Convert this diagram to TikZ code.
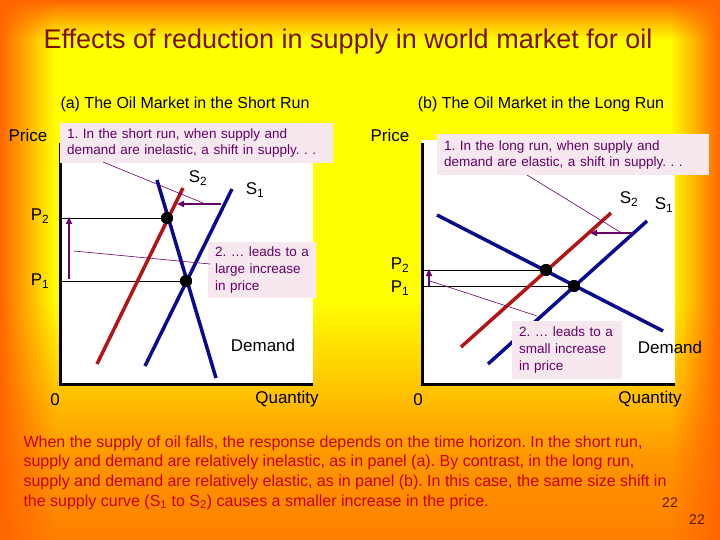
\documentclass[tikz,border=0pt]{standalone}
\usepackage{fontspec}
\setmainfont{Liberation Sans}
\usetikzlibrary{arrows.meta,fadings}
\frenchspacing

\definecolor{oilorange}{HTML}{FF6600}
\definecolor{oilyellow}{HTML}{FFFF00}
\definecolor{lowband}{HTML}{FF9500}
\definecolor{lowedge}{HTML}{FF7F00}
\definecolor{plum}{HTML}{660066}
\definecolor{boxpink}{HTML}{F6E8EE}
\definecolor{curveblue}{HTML}{0A0A90}
\definecolor{curvered}{HTML}{B41414}
\definecolor{titlered}{HTML}{7A1000}
\definecolor{textred}{HTML}{C80000}
\definecolor{pagenum}{HTML}{5A1A00}

\tikzfading[name=fadedown, top color=transparent!0, bottom color=transparent!100]
\tikzfading[name=faderight, left color=transparent!0, right color=transparent!100]
\tikzfading[name=fadeleft, left color=transparent!100, right color=transparent!0]

\begin{document}
\begin{tikzpicture}[x=1pt,y=-1pt,
	lbl/.style={font=\fontsize{17}{20}\selectfont},
	subttl/.style={font=\fontsize{16}{19}\selectfont},
	notebox/.style={fill=boxpink, text=plum, font=\fontsize{13.5}{16}\selectfont,
		align=left, inner xsep=7pt, anchor=north west},
	bluecurve/.style={line width=3.5pt, curveblue},
	redcurve/.style={line width=3.5pt, curvered},
	eqdot/.style={circle, fill=black, inner sep=0pt, minimum size=12pt},
	shiftarrow/.style={plum, line width=2pt, -{Triangle[length=7pt,width=6pt]}},
	pointer/.style={plum, line width=0.6pt},
	priceline/.style={black, line width=0.8pt},
	axisline/.style={black, line width=3pt}]
	\useasboundingbox (0,0) rectangle (720,540);
	% background
	\fill[oilyellow] (0,0) rectangle (720,540);
	\shade[top color=oilyellow, bottom color=lowband] (0,300) rectangle (720,460);
	\shade[top color=lowband, bottom color=lowedge] (0,460) rectangle (720,540);
	\fill[oilorange, path fading=fadedown] (0,0) rectangle (720,40);
	\fill[oilorange, path fading=faderight] (0,0) rectangle (55,540);
	\fill[oilorange, path fading=fadeleft] (670,0) rectangle (720,540);
	
	\node[text=titlered, font=\fontsize{27}{30}\selectfont](titl) at (348,42) {Effects of reduction in supply in world market for oil};
	\node[subttl](ttla) at (185,104) {(a) The Oil Market in the Short Run};
	\node[subttl](ttlb) at (541,104) {(b) The Oil Market in the Long Run};
	
	% panel (a): short run
	\fill[white] (60,140) rectangle (313,384);
	\coordinate(ya) at (60,143);\coordinate(oa) at (60,384);\coordinate(xa) at (313,384);
	\draw[axisline] (ya) -- (oa) -- (xa);
	\node[eqdot](eq2a) at (167,218) {};
	\node[eqdot](eq1a) at (186,281) {};
	\coordinate(p2a) at (60,218);\coordinate(p1a) at (60,281);
	\draw[priceline] (p2a) -- (eq2a.center);
	\draw[priceline] (p1a) -- (eq1a.center);
	\coordinate(da1) at (157,180);\coordinate(da2) at (216,378);
	\coordinate(s1a1) at (232,189);\coordinate(s1a2) at (145,366);
	\coordinate(s2a1) at (183,188);\coordinate(s2a2) at (97,364);
	\draw[redcurve] (s2a2) -- (s2a1);
	\draw[bluecurve] (s1a2) -- (s1a1);
	\draw[bluecurve] (da1) -- (da2);
	\node[eqdot] at (eq2a) {};\node[eqdot] at (eq1a) {};
	\node[notebox, text width=259pt, minimum height=40pt](n1a) at (60,123) {1. In the short run, when supply and\\demand are inelastic, a shift in supply. . .};
	\node[notebox, text width=94pt, minimum height=56pt, font=\fontsize{13.5}{16.7}\selectfont](n2a) at (208,242) {2. … leads to a\\large increase\\in price};
	\coordinate(fa1) at (221,204);\coordinate(fa2) at (177,204);
	\draw[shiftarrow] (fa1) -- (fa2);
	\coordinate(ra1) at (69,279);\coordinate(ra2) at (69,217);
	\draw[shiftarrow] (ra1) -- (ra2);
	\coordinate(qa1) at (103,162);\coordinate(qa2) at (203,203);
	\draw[pointer] (qa1) -- (qa2);
	\coordinate(qa3) at (74,251);\coordinate(qa4) at (210,264);
	\draw[pointer] (qa3) -- (qa4);
	\node[lbl](pra) at (28,135) {Price};
	\node[lbl](lp2a) at (40,216) {P\textsubscript{2}};
	\node[lbl](lp1a) at (40,281) {P\textsubscript{1}};
	\node[lbl](ls2a) at (198,178) {S\textsubscript{2}};
	\node[lbl](ls1a) at (255,190) {S\textsubscript{1}};
	\node[lbl](dma) at (263,345) {Demand};
	\node[lbl](zra) at (55,400) {0};
	\node[lbl](qta) at (287,399) {Quantity};
	
	% panel (b): long run
	\fill[white] (422,140) rectangle (675,384);
	\coordinate(yb) at (422,143);\coordinate(ob) at (422,384);\coordinate(xb) at (675,384);
	\draw[axisline] (yb) -- (ob) -- (xb);
	\node[eqdot](eq2b) at (546,270) {};
	\node[eqdot](eq1b) at (574,286) {};
	\coordinate(p2b) at (422,270);\coordinate(p1b) at (422,286);
	\draw[priceline] (p2b) -- (eq2b.center);
	\draw[priceline] (p1b) -- (eq1b.center);
	\coordinate(db1) at (437,215);\coordinate(db2) at (663,331);
	\coordinate(s1b1) at (647,221);\coordinate(s1b2) at (488,364);
	\coordinate(s2b1) at (611,213);\coordinate(s2b2) at (461,347);
	\draw[redcurve] (s2b2) -- (s2b1);
	\draw[bluecurve] (s1b2) -- (s1b1);
	\draw[bluecurve] (db1) -- (db2);
	\node[eqdot] at (eq2b) {};\node[eqdot] at (eq1b) {};
	\node[notebox, text width=258pt, minimum height=41pt](n1b) at (437,134) {1. In the long run, when supply and\\demand are elastic, a shift in supply. . .};
	\node[notebox, text width=96pt, minimum height=58pt, font=\fontsize{13.5}{16.7}\selectfont](n2b) at (512,321) {2. … leads to a\\small increase\\in price};
	\coordinate(fb1) at (633,233);\coordinate(fb2) at (590,233);
	\draw[shiftarrow] (fb1) -- (fb2);
	\coordinate(rb1) at (429,286);\coordinate(rb2) at (429,269);
	\draw[shiftarrow] (rb1) -- (rb2);
	\coordinate(qb1) at (527,175);\coordinate(qb2) at (620,232);
	\draw[pointer] (qb1) -- (qb2);
	\coordinate(qb3) at (430,281);\coordinate(qb4) at (537,316);
	\draw[pointer] (qb3) -- (qb4);
	\node[lbl](prb) at (390,135) {Price};
	\node[lbl](lp2b) at (400,265) {P\textsubscript{2}};
	\node[lbl](lp1b) at (400,288) {P\textsubscript{1}};
	\node[lbl](ls2b) at (629,199) {S\textsubscript{2}};
	\node[lbl](ls1b) at (664,205) {S\textsubscript{1}};
	\node[lbl](dmb) at (670,347) {Demand};
	\node[lbl](zrb) at (418,400) {0};
	\node[lbl](qtb) at (650,399) {Quantity};
	
	% caption
	\node[text=textred, font=\fontsize{16}{19.7}\selectfont, align=left, anchor=north west](capt) at (20,432) {When the supply of oil falls, the response depends on the time horizon. In the short run,\\supply and demand are relatively inelastic, as in panel (a). By contrast, in the long run,\\supply and demand are relatively elastic, as in panel (b). In this case, the same size shift in\\the supply curve (S\textsubscript{1} to S\textsubscript{2}) causes a smaller increase in the price.};
	\node[text=pagenum, font=\fontsize{14}{16}\selectfont](pg1) at (670,503) {22};
	\node[text=pagenum, font=\fontsize{14}{16}\selectfont](pg2) at (697,520) {22};
\end{tikzpicture}
\end{document}
